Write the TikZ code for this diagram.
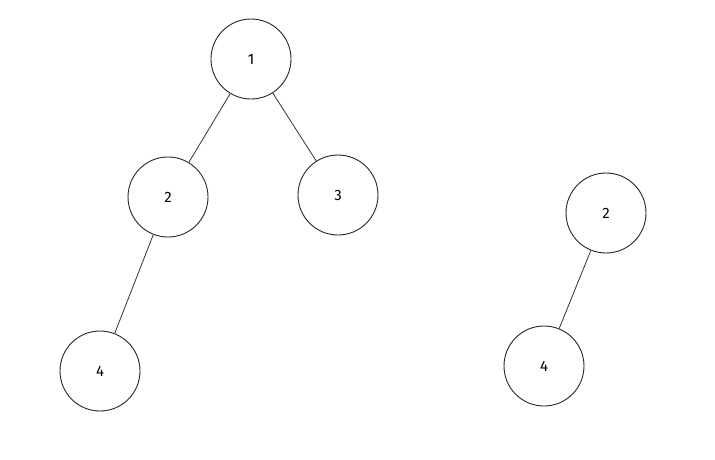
\documentclass[tikz,border=0pt]{standalone}
\usepackage{fontspec}
\setmainfont{Fira Sans}
\begin{document}
\begin{tikzpicture}[x=1pt,y=-1pt,
  tnode/.style={draw=black!85,line width=0.9pt,circle,minimum size=80pt,inner sep=0pt,font=\fontsize{15}{17}\selectfont},
  edge/.style={draw=black!80,line width=0.8pt}]
\useasboundingbox (0,0) rectangle (715,459);
\node[tnode] (n1) at (251,59) {1};
\node[tnode] (n2) at (168,197) {2};
\node[tnode] (n3) at (338,195) {3};
\node[tnode] (n4) at (100,371) {4};
\node[tnode] (m2) at (606,213) {2};
\node[tnode] (m4) at (544,366) {4};
\draw[edge] (n1) -- (n2);
\draw[edge] (n1) -- (n3);
\draw[edge] (n2) -- (n4);
\draw[edge] (m2) -- (m4);
\end{tikzpicture}
\end{document}
